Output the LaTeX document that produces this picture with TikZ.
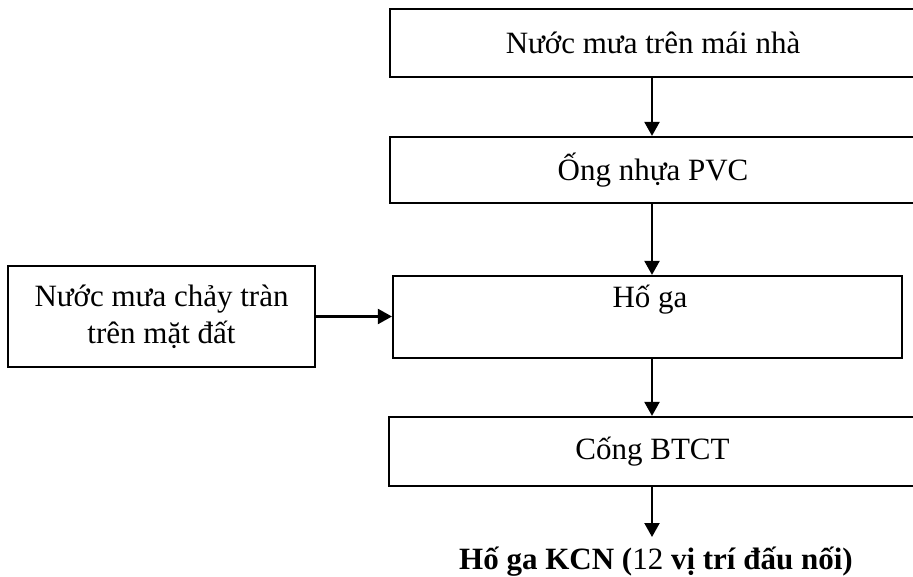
\documentclass[tikz,border=0pt]{standalone}
\usepackage{fontspec}
\setmainfont{Liberation Serif}
\usetikzlibrary{arrows.meta}
\begin{document}
\begin{tikzpicture}[x=1pt,y=-1pt,
  every node/.style={font=\fontsize{31}{37}\selectfont},
  box/.style={draw,line width=2.2pt,rectangle,inner sep=0pt,align=center},
  flow/.style={line width=2.2pt,-{Triangle[length=14pt,width=15pt]}}]
\useasboundingbox (0,0) rectangle (913,577);
\clip (0,0) rectangle (913,577);
% column of process boxes
\node[box,minimum width=526pt,minimum height=68pt] (roof) at (653,43) {Nước mưa trên mái nhà};
\node[box,minimum width=526pt,minimum height=66pt] (pvc) at (653,170) {Ống nhựa PVC};
\node[box,minimum width=509pt,minimum height=82pt] (pit) at (647.5,317) {};
\node[anchor=base,inner sep=0pt] (pitlbl) at (650,308) {Hố ga};
\node[box,minimum width=527pt,minimum height=69pt] (cong) at (652.5,451.5) {Cống BTCT};
% side inflow
\node[box,minimum width=307pt,minimum height=101pt] (surf) at (161.5,316.5) {Nước mưa chảy tràn\\trên mặt đất};
% outlet
\node[anchor=base,inner sep=0pt] (kcn) at (656,569) {\textbf{Hố ga KCN (}12\textbf{ vị trí đấu nối)}};
\coordinate (ax) at (652,0);
\coordinate (tip) at (652,537);
% connectors
\draw[flow] (roof.south -| ax) -- (pvc.north -| ax);
\draw[flow] (pvc.south -| ax) -- (pit.north -| ax);
\draw[flow] (pit.south -| ax) -- (cong.north -| ax);
\draw[flow] (cong.south -| ax) -- (tip);
\draw[flow] (surf.east) -- (surf.east -| pit.west);
\end{tikzpicture}
\end{document}
